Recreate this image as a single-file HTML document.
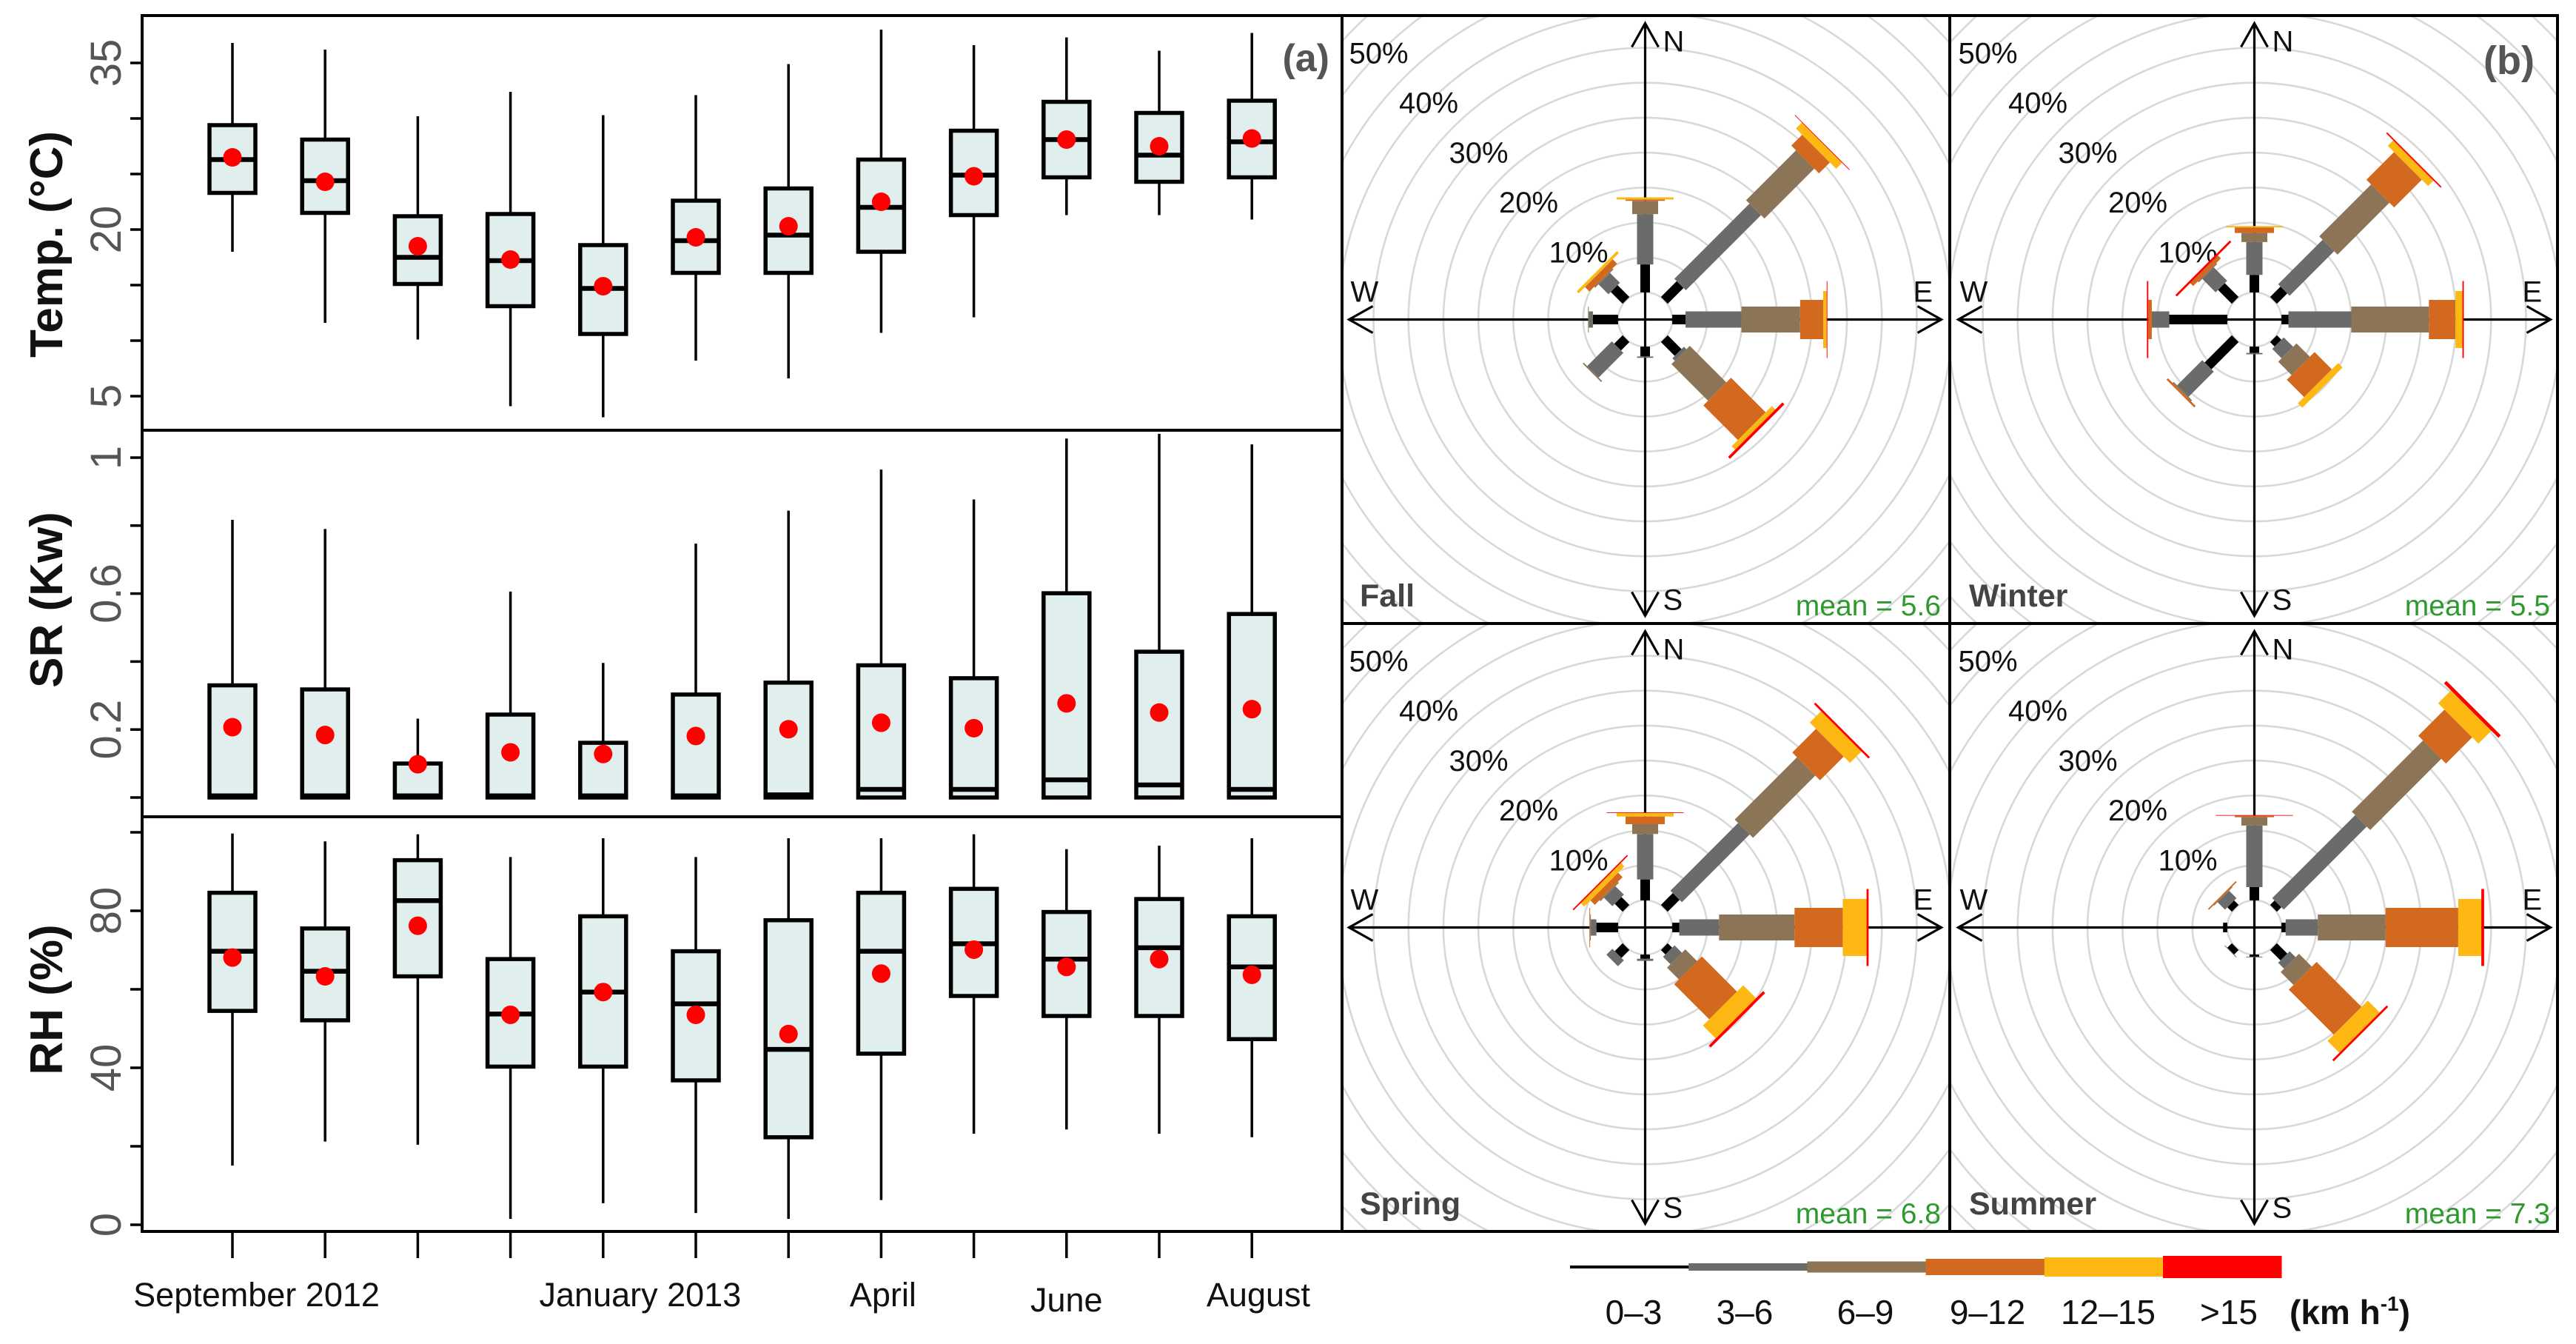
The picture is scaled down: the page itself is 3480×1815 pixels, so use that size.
<!DOCTYPE html>
<html><head><meta charset="utf-8">
<style>
html,body{margin:0;padding:0;background:#fff;width:3480px;height:1815px;overflow:hidden;}
svg{display:block;position:absolute;left:0;top:0;overflow:hidden;}
text{font-family:"Liberation Sans",Arial,sans-serif;}
</style></head>
<body>
<svg id="fig" xmlns="http://www.w3.org/2000/svg" width="3480" height="1815" viewBox="0 0 3480 1815">
<rect x="0" y="0" width="3480" height="1815" fill="#fff"/>
</svg>
<script>
// ---------- Panel (a) data ----------
const months = ['Sep','Oct','Nov','Dec','Jan','Feb','Mar','Apr','May','Jun','Jul','Aug'];
const tempHigh = [36.8,36.2,30.2,32.4,30.3,32.1,34.9,38.0,36.6,37.3,36.1,37.7];
const tempQ3 = [29.4,28.1,21.2,21.4,18.6,22.6,23.7,26.3,28.9,31.5,30.5,31.6];
const tempMed = [26.3,24.4,17.5,17.2,14.7,19.0,19.5,22.0,24.9,28.1,26.7,27.9];
const tempQ1 = [23.3,21.5,15.1,13.1,10.6,16.1,16.1,18.0,21.3,24.7,24.3,24.7];
const tempLow = [18.0,11.6,10.1,4.1,3.1,8.2,6.6,10.7,12.1,21.3,21.3,20.9];
const tempMean = [26.5,24.3,18.5,17.3,14.9,19.3,20.3,22.5,24.8,28.1,27.5,28.2];
const srHigh = [0.817,0.79,0.232,0.606,0.396,0.747,0.844,0.965,0.877,1.056,1.07,1.039];
const srQ3 = [0.33,0.318,0.10,0.244,0.161,0.303,0.338,0.389,0.351,0.601,0.429,0.54];
const srMed = [0.005,0.005,0.005,0.005,0.005,0.005,0.008,0.024,0.024,0.052,0.037,0.024];
const srQ1 = [0,0,0,0,0,0,0,0,0,0,0,0];
const srLow = [0,0,0,0,0,0,0,0,0,0,0,0];
const srMean = [0.207,0.184,0.098,0.133,0.128,0.181,0.201,0.22,0.204,0.277,0.25,0.26];
const rhHigh = [99.7,97.7,99.5,93.7,98.5,93.7,98.5,98.5,99.5,95.7,96.6,98.5];
const rhQ3 = [84.6,75.5,92.9,67.7,78.6,69.7,77.6,84.6,85.6,79.7,83.0,78.6];
const rhMed = [69.7,64.6,82.6,53.7,59.3,56.3,44.7,69.7,71.6,67.7,70.6,65.7];
const rhQ1 = [54.5,52.1,63.3,40.3,40.3,36.8,22.3,43.6,58.3,53.2,53.2,47.3];
const rhLow = [15.1,21.2,20.4,1.5,5.5,3.0,1.5,6.3,23.2,24.3,23.2,22.3];
const rhMean = [68.1,63.3,76.2,53.5,59.3,53.5,48.6,64.0,70.1,65.7,67.7,63.7];
const tempTicks = [5,10,15,20,25,30,35];
const tempLabels = ['5','20','35'];
const srTicks = [0,0.2,0.4,0.6,0.8,1.0];
const srLabels = ['0.2','0.6','1'];
const rhTicks = [0,20,40,60,80,100];
const rhLabels = ['0','40','80'];
const xLabelText = ['September 2012','January 2013','April','June','August'];
const xLabelPos = [0.26,4.4,7.02,9.0,11.07];

// ---------- Panel (b) data: cumulative % per speed class, dirs N,NE,E,SE,S,SW,W,NW ----------
const seasons = ['Fall','Winter','Spring','Summer'];
const seasonMeans = ['5.6','5.5','6.8','7.3'];
const speedClasses = ['0–3','3–6','6–9','9–12','12–15','>15'];
const fallCum = [[4.0,11.2,13.1,13.3,13.6,13.6],[3.2,18.4,28.5,30.7,31.9,32.0],[1.9,9.9,18.3,21.6,22.1,22.2],[2.8,3.3,10.7,17.7,18.4,18.8],[1.4,1.6,1.6,1.6,1.6,1.6],[1.7,6.7,6.9,6.9,6.9,6.9],[3.6,4.2,4.3,4.3,4.3,4.3],[2.4,4.4,4.6,5.5,5.9,5.9]];
const winterCum = [[2.5,7.2,8.5,9.3,9.5,9.5],[2.1,11.1,21.6,27.2,28.3,28.5],[1.0,10.0,21.1,24.9,25.9,26.1],[0.9,2.8,5.5,9.0,9.9,9.9],[0.9,1.1,1.1,1.1,1.1,1.1],[5.5,10.6,10.8,11.1,11.1,11.1],[8.3,10.8,10.8,11.3,11.3,11.5],[2.8,5.5,5.7,6.3,6.3,6.6]];
const springCum = [[3.0,9.5,10.9,12.0,12.5,12.6],[2.4,16.1,28.7,33.5,35.8,36.1],[1.0,6.7,17.5,24.4,27.8,28.1],[0.9,2.4,4.8,11.9,14.5,14.9],[0.6,0.9,0.9,0.9,0.9,0.9],[1.6,2.8,2.8,2.8,2.8,2.8],[3.1,3.9,4.0,4.1,4.1,4.1],[1.6,3.3,3.5,4.4,5.1,5.3]];
const summerCum = [[1.9,10.7,11.9,12.1,12.1,12.2],[0.9,17.7,32.1,37.4,40.0,40.5],[0.6,5.2,14.9,25.3,28.6,29.0],[2.1,3.3,5.9,15.0,17.4,17.7],[0.3,0.4,0.4,0.4,0.4,0.4],[0.9,1.0,1.0,1.0,1.0,1.0],[0.6,0.6,0.6,0.6,0.6,0.6],[0.9,2.4,2.5,2.7,2.7,2.7]];
const pctLabels = [10,20,30,40,50];
const ringPcts = [0,5,10,15,20,25,30,35,40,45,50,55];

const NS='http://www.w3.org/2000/svg';
const svg=document.getElementById('fig');
function mk(tag,attrs,parent){const e=document.createElementNS(NS,tag);for(const k in attrs)e.setAttribute(k,attrs[k]);(parent||svg).appendChild(e);return e;}

const xC = i => 314 + i*125.2;
const yT = v => 85 + (35 - v)*15;
const ySR = v => 1077 - v*459;
const yRH = v => 1654 - v*5.3;

function boxPanel(name, sc, hi, q3, med, q1, lo, mean, ticks, labels, title, titleY){
  const g=mk('g',{});
  
  
  for(let i=0;i<months.length;i++){
    const x=xC(i);
    const wh=mk('line',{x1:x,x2:x,y1:sc(lo[i]),y2:sc(hi[i]),stroke:'#000','stroke-width':3.5},g);
    
    
    const b=mk('rect',{x:x-31,y:sc(q3[i]),width:62,height:sc(q1[i])-sc(q3[i]),fill:'#e0eeee',stroke:'#000','stroke-width':5.5},g);
    
    
    const m=mk('line',{x1:x-31,x2:x+31,y1:sc(med[i]),y2:sc(med[i]),stroke:'#000','stroke-width':6.5},g);
    
    
    const d=mk('circle',{cx:x,cy:sc(mean[i]),r:12.5,fill:'#ff0000'},g);
    
    
  }
  ticks.forEach(t=>{
    const tk=mk('line',{x1:176,x2:192,y1:sc(t),y2:sc(t),stroke:'#000','stroke-width':3.5},g);
    
    
  });
  labels.forEach(l=>{
    const y=sc(parseFloat(l));
    const t=mk('text',{x:163,y:y,transform:`rotate(-90 163 ${y})`,'text-anchor':'middle','font-size':58,fill:'#555'},g);
    t.textContent=l;
    
    
  });
  const tt=mk('text',{x:84,y:titleY,transform:`rotate(-90 84 ${titleY})`,'text-anchor':'middle','font-size':62,'font-weight':'bold',fill:'#111'},g);
  tt.textContent=title;
  
  
}
boxPanel('temp', yT, tempHigh, tempQ3, tempMed, tempQ1, tempLow, tempMean, tempTicks, tempLabels, 'Temp. (°C)', 330);
boxPanel('sr', ySR, srHigh, srQ3, srMed, srQ1, srLow, srMean, srTicks, srLabels, 'SR (Kw)', 810);
boxPanel('rh', yRH, rhHigh, rhQ3, rhMed, rhQ1, rhLow, rhMean, rhTicks, rhLabels, 'RH (%)', 1350);

const fa=mk('rect',{x:192,y:21,width:1621,height:1642,fill:'none',stroke:'#000','stroke-width':4});


[581,1103].forEach(y=>{
  const l=mk('line',{x1:192,x2:1813,y1:y,y2:y,stroke:'#000','stroke-width':4});
  
  
});
for(let i=0;i<months.length;i++){
  const l=mk('line',{x1:xC(i),x2:xC(i),y1:1663,y2:1699,stroke:'#000','stroke-width':3.5});
  
  
}
xLabelText.forEach((s,k)=>{
  const t=mk('text',{x:xC(xLabelPos[k]),y:(s==='June'?1771:1764),'text-anchor':'middle','font-size':45,fill:'#111'});
  t.textContent=s;
  
  
});
const la=mk('text',{x:1796,y:96,'text-anchor':'end','font-size':52,'font-weight':'bold',fill:'#555'});
la.textContent='(a)';



// ---------- Wind roses ----------
const speedColors=['#000000','#6b6b6b','#8b7556','#d2691e','#fdb813','#ff0000'];
const speedWidths=[13,22,35,53,77,104];
const rr = p => 36.6 + 9.44*p;
const panels=[[1811,21],[2634,21],[1811,842],[2634,842]];
const allCum=[fallCum,winterCum,springCum,summerCum];
const defs=mk('defs',{});
panels.forEach((pp,si)=>{
  const cp=mk('clipPath',{id:'clip'+si},defs);
  mk('rect',{x:pp[0],y:pp[1],width:823,height:821},cp);
});
panels.forEach((pp,si)=>{
  const cx=pp[0]+411.5, cy=pp[1]+410.5;
  const g=mk('g',{'clip-path':`url(#clip${si})`});
  
  
  ringPcts.forEach(p=>{
    const c=mk('circle',{cx:cx,cy:cy,r:rr(p),fill:'none',stroke:'#d8d8d8','stroke-width':2.6},g);
    
    
  });
  const ax=mk('g',{stroke:'#000','stroke-width':3.2,fill:'none'},g);
  
  
  mk('line',{x1:cx,x2:cx,y1:cy-400,y2:cy+400},ax);
  mk('line',{x1:cx-400,x2:cx+400,y1:cy,y2:cy},ax);
  mk('polyline',{points:`${cx-18},${cy-368} ${cx},${cy-400} ${cx+18},${cy-368}`},ax);
  mk('polyline',{points:`${cx-18},${cy+368} ${cx},${cy+400} ${cx+18},${cy+368}`},ax);
  mk('polyline',{points:`${cx+368},${cy-18} ${cx+400},${cy} ${cx+368},${cy+18}`},ax);
  mk('polyline',{points:`${cx-368},${cy-18} ${cx-400},${cy} ${cx-368},${cy+18}`},ax);
  [['N',cx+24,cy-362],['S',cx+24,cy+392],['E',cx+362,cy-24],['W',cx-398,cy-24]].forEach(d=>{
    const t=mk('text',{x:d[1],y:d[2],'font-size':40,fill:'#111'},g);
    t.textContent=d[0];
    
    
  });
  pctLabels.forEach((p,k)=>{
    const t=mk('text',{x:cx-130-67.5*k,y:cy-77-67.3*k,'font-size':40,fill:'#111'},g);
    t.textContent=p+'%';
    
    
  });
  const cum=allCum[si];
  cum.forEach((vals,di)=>{
    const th=di*Math.PI/4;
    const ux=Math.sin(th), uy=-Math.cos(th), nx=Math.cos(th), ny=Math.sin(th);
    let prev=0;
    vals.forEach((v,k)=>{
      if(v>prev){
        const r1=rr(prev), r2=rr(v), w=speedWidths[k]/2;
        const pts=[[r1,-w],[r2,-w],[r2,w],[r1,w]].map(a=>`${cx+ux*a[0]+nx*a[1]},${cy+uy*a[0]+ny*a[1]}`).join(' ');
        const s=mk('polygon',{points:pts,fill:speedColors[k]},g);
        
        
      }
      prev=Math.max(prev,v);
    });
  });
  const sl=mk('text',{x:pp[0]+26,y:pp[1]+798,'font-size':43,'font-weight':'bold',fill:'#444'});
  sl.textContent=seasons[si];
  
  
  const mt=mk('text',{x:pp[0]+811,y:pp[1]+810,'text-anchor':'end','font-size':39,fill:'#2e9a2e'});
  mt.textContent='mean = '+seasonMeans[si];
  
  
});
const fb=mk('rect',{x:1813,y:21,width:1642,height:1642,fill:'none',stroke:'#000','stroke-width':4});


const v1=mk('line',{x1:2634,x2:2634,y1:21,y2:1663,stroke:'#000','stroke-width':4});


const h1=mk('line',{x1:1813,x2:3455,y1:842,y2:842,stroke:'#000','stroke-width':4});


const lb=mk('text',{x:3424,y:100,'text-anchor':'end','font-size':54,'font-weight':'bold',fill:'#555'});
lb.textContent='(b)';



// ---------- speed legend ----------
const legendHeights=[4,10,15,22,26,30];
const lg=mk('g',{});


speedClasses.forEach((s,k)=>{
  const x=2121+k*160.2;
  const r=mk('rect',{x:x,y:1711-legendHeights[k]/2,width:160.5,height:legendHeights[k],fill:speedColors[k]},lg);
  
  
  const t=mk('text',{x:[2207,2357,2520,2685,2848,3011][k],y:1788,'text-anchor':'middle','font-size':46,fill:'#111'},lg);
  t.textContent=s;
  
  
});
const unit=mk('text',{x:3093,y:1788,'font-size':46,'font-weight':'bold',fill:'#111'},lg);
unit.innerHTML='(km h<tspan dy="-18" font-size="28">-1</tspan><tspan dy="18">)</tspan>';


</script>
</body></html>
